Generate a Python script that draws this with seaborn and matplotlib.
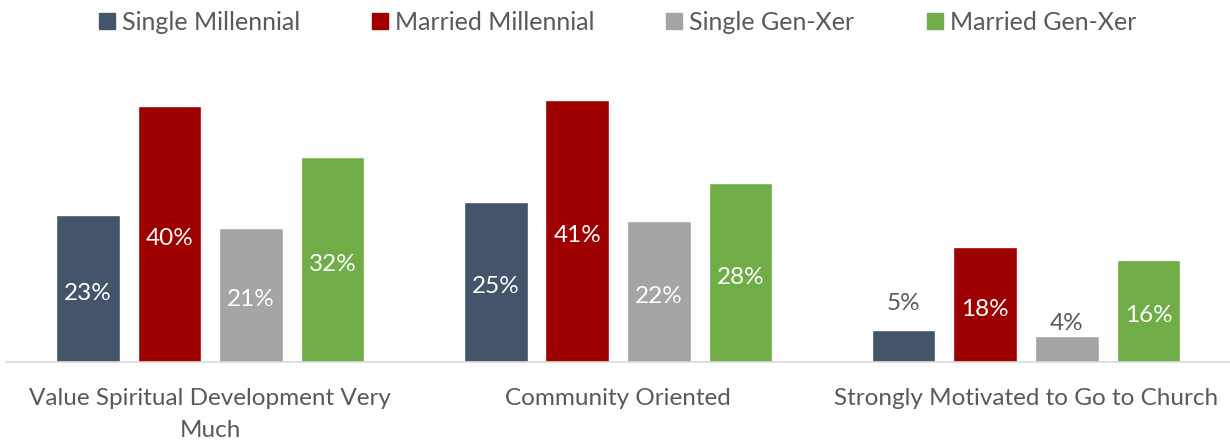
import pandas as pd
import numpy as np
import matplotlib.pyplot as plt
import seaborn as sns
from matplotlib.lines import Line2D

categories = ['Value Spiritual Development Very\nMuch', 'Community Oriented', 'Strongly Motivated to Go to Church']
series = ['Single Millennial', 'Married Millennial', 'Single Gen-Xer', 'Married Gen-Xer']
single_millennial = [23, 25, 5]
married_millennial = [40, 41, 18]
single_genxer = [21, 22, 4]
married_genxer = [32, 28, 16]
colors = ['#44546A', '#9E0000', '#A5A5A5', '#70AD47']

rows = []
for name, vals in zip(series, [single_millennial, married_millennial, single_genxer, married_genxer]):
    for cat, v in zip(categories, vals):
        rows.append({'category': cat, 'group': name, 'value': v})
df = pd.DataFrame(rows)

sns.set_style('white')
plt.rcParams['font.family'] = ['Lato', 'DejaVu Sans']
txt = '#595959'
fs = 17.5

fig = plt.figure(figsize=(12.3, 4.43), dpi=100)
ax = fig.add_axes([0.005, 0.1828, 0.995, 0.65])
sns.barplot(data=df, x='category', y='value', hue='group', hue_order=series,
            palette=colors, width=0.8, gap=0.22, saturation=1, ax=ax, legend=False)

ax.set_ylim(0, 45)
ax.set_xlim(-0.5, 2.5)
ax.set_yticks([])
ax.set_xlabel('')
ax.set_ylabel('')
for s in ['top', 'left', 'right']:
    ax.spines[s].set_visible(False)
ax.spines['bottom'].set_color('#D9D9D9')
ax.spines['bottom'].set_linewidth(1.2)
ax.set_xticks(range(len(categories)))
ax.set_xticklabels(categories, linespacing=1.6)
ax.tick_params(axis='x', length=0, pad=19, labelsize=fs, colors=txt)

# labels: centred in tall bars, above the short ones (as Excel does)
for cont in ax.containers:
    for b in cont:
        v = b.get_height()
        x = b.get_x() + b.get_width() / 2
        if v >= 10:
            ax.annotate('%d%%' % v, (x, v / 2), xytext=(0, -3.5), textcoords='offset points',
                        ha='center', va='center', color='white', fontsize=fs)
        else:
            off = 19 if v >= 5 else 9.5
            ax.annotate('%d%%' % v, (x, v), xytext=(0, off), textcoords='offset points',
                        ha='center', va='center', color=txt, fontsize=fs)

handles = [Line2D([], [], marker='s', linestyle='', markersize=11, color=c) for c in colors]
fig.legend(handles, series, loc='center', bbox_to_anchor=(0.5, 0.95), ncol=4, frameon=False,
           fontsize=18, labelcolor=txt, handletextpad=0.1, columnspacing=2.7, handlelength=1.0)

fig.savefig('out.png', dpi=100)
